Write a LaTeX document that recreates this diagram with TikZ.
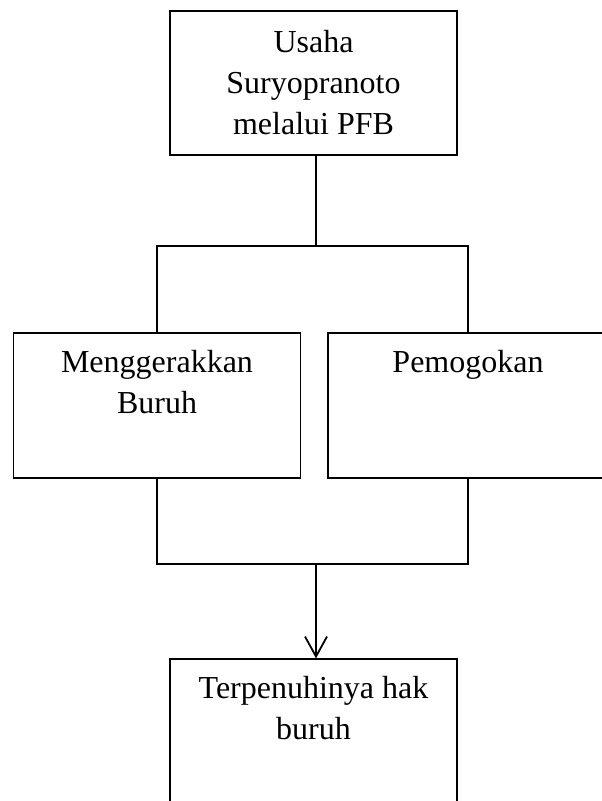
\documentclass[tikz,border=0pt]{standalone}
\usepackage{fontspec}
\setmainfont{Liberation Serif}
\usepackage{tikz}
\usetikzlibrary{arrows.meta,positioning}

\tikzset{
box/.style={draw,line width=0.6pt,minimum width=143.5pt,minimum height=72.5pt,inner sep=0pt},
txt/.style={align=center,font=\fontsize{16}{20.5}\selectfont,inner sep=0pt},
link/.style={line width=0.9pt}
}

\begin{document}
\begin{tikzpicture}[x=0.5pt,y=-0.5pt]
\useasboundingbox(0,0)rectangle(601,801);
\node[box,minimum height=72pt,txt](usaha)at(313.5,83){Usaha\\Suryopranoto\\melalui PFB};
\node[box](gerak)at(157,405.5){};
\node[box,minimum width=140pt](mogok)at(468,405.5){};
\node[box](hasil)at(313.5,731.5){};
\node[txt,below=8.5pt of gerak.north](gerakt){Menggerakkan\\Buruh};
\node[txt,below=8.5pt of mogok.north](mogokt){Pemogokan};
\node[txt,below=8.5pt of hasil.north](hasilt){Terpenuhinya hak\\buruh};
%connectors
\coordinate (fork) at (316,246);
\coordinate (join) at (316,564);
\draw[link](usaha.south -| fork)--(fork);
\draw[link](gerak.north)|-(fork)-|(mogok.north);
\draw[link](gerak.south)|-(join)-|(mogok.south);
\draw[link,-{Straight Barb[length=10pt,width=11pt]}](join)--(hasil.north -| join);
\end{tikzpicture}
\end{document}
